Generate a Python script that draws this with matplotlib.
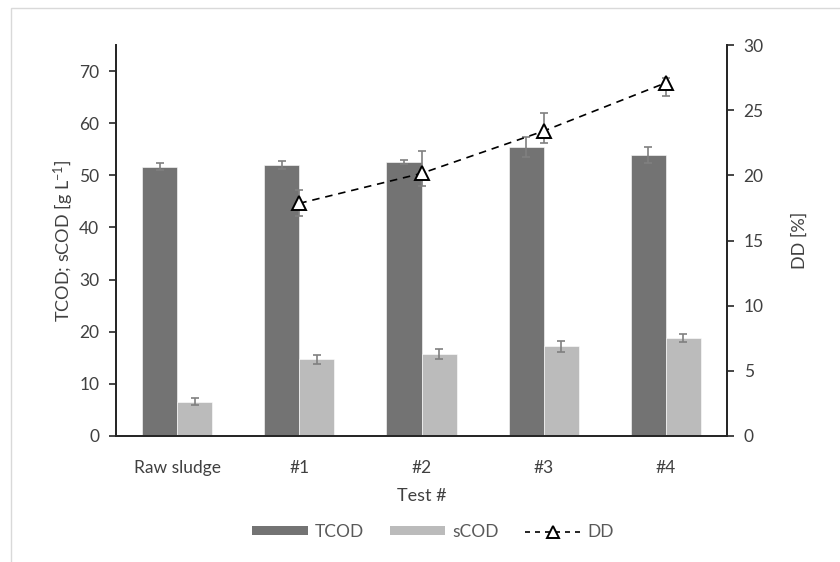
"""
TCOD / sCOD bars with degree of disintegration (DD) on a second axis.
Values read off the reference chart.
"""
import numpy as np
import matplotlib
matplotlib.use("Agg")
import matplotlib.pyplot as plt
from matplotlib.lines import Line2D
from matplotlib.patches import Patch, Rectangle

plt.rcParams["font.family"] = ["Lato", "DejaVu Sans"]
plt.rcParams["mathtext.fontset"] = "custom"
plt.rcParams["mathtext.rm"] = "Lato"
plt.rcParams["mathtext.it"] = "Lato:italic"

# ----- data -----
tests = ["Raw sludge", "#1", "#2", "#3", "#4"]
tcod = [51.65, 52.0, 52.6, 55.4, 53.9]
tcod_err = [0.65, 0.8, 0.4, 1.9, 1.5]
scod = [6.6, 14.7, 15.7, 17.2, 18.8]
scod_err = [0.65, 0.85, 0.95, 1.0, 0.8]
dd_tests = ["#1", "#2", "#3", "#4"]
dd = [17.85, 20.15, 23.4, 27.1]
dd_err_low = [1.0, 0.95, 0.95, 1.0]
dd_err_high = [1.0, 1.7, 1.4, 0.4]

c_tcod = "#737373"
c_scod = "#bbbbbb"
c_err = "#808080"
c_text = "#404040"
c_axis = "#262626"

x = np.arange(len(tests))
w = 0.287
fs = 12.5

fig = plt.figure(figsize=(8.4, 5.62), dpi=100)
ax = fig.add_axes([116 / 840, 1 - 436 / 562, (727 - 116) / 840, (436 - 45) / 562])

# faint chart-area border (Excel style)
fig.patches.append(Rectangle((11 / 840, -0.05), 1.2, 1 - 8 / 562 + 0.05,
                             transform=fig.transFigure, fill=False,
                             edgecolor="#d9d9d9", lw=1.0))

ekw = dict(ecolor=c_err, elinewidth=1.2, capsize=3.2, capthick=1.2)
ax.bar(x - w / 2, tcod, w, color=c_tcod, edgecolor="white", linewidth=0.4,
       yerr=tcod_err, error_kw=ekw, zorder=2)
ax.bar(x + w / 2, scod, w, color=c_scod, edgecolor="white", linewidth=0.4,
       yerr=scod_err, error_kw=ekw, zorder=2)

ax.set_xlim(-0.5, len(tests) - 0.5)
ax.set_ylim(0, 75)
ax.set_yticks(np.arange(0, 71, 10))
ax.set_xticks(x)
ax.set_xticklabels(tests)
ax.tick_params(axis="x", length=0, pad=17, labelsize=fs, labelcolor=c_text)
ax.tick_params(axis="y", direction="out", length=5, width=1.2, color=c_axis,
               pad=7, labelsize=fs, labelcolor=c_text)
ax.set_xlabel("Test #", fontsize=fs + 0.5, color=c_text, labelpad=9)
ax.set_ylabel(r"TCOD; sCOD [g L$^{\mathregular{-1}}$]", fontsize=fs + 0.5,
              color=c_text, labelpad=2)

ax2 = ax.twinx()
dd_x = [tests.index(t) for t in dd_tests]
ax2.errorbar(dd_x, dd, yerr=[dd_err_low, dd_err_high], fmt="none", zorder=3, **ekw)
ax2.plot(dd_x, dd, color="black", lw=1.2, dashes=(4.5, 3.5), marker="^",
         markersize=10.5, markerfacecolor="white", markeredgecolor="black",
         markeredgewidth=1.4, zorder=4)
ax2.set_ylim(0, 30)
ax2.set_yticks(np.arange(0, 31, 5))
ax2.tick_params(axis="y", direction="out", length=5, width=1.2, color=c_axis,
                pad=7, labelsize=fs, labelcolor=c_text)
ax2.set_ylabel("DD [%]", fontsize=fs + 0.5, color=c_text, labelpad=20)

for a in (ax, ax2):
    a.spines["top"].set_visible(False)
    for s in ("left", "right", "bottom"):
        a.spines[s].set_color(c_axis)
        a.spines[s].set_linewidth(1.3)

handles = [
    Patch(facecolor=c_tcod, edgecolor="none", label="TCOD"),
    Patch(facecolor=c_scod, edgecolor="none", label="sCOD"),
    Line2D([], [], color="black", lw=1.2, dashes=(3, 3), marker="^",
           markersize=9, markerfacecolor="white", markeredgecolor="black",
           markeredgewidth=1.4, label="DD"),
]
leg = fig.legend(handles=handles, loc="center", bbox_to_anchor=(433 / 840, 1 - 532 / 562),
                 ncol=3, frameon=False, fontsize=fs, handlelength=3.2,
                 handleheight=0.45, handletextpad=0.4, columnspacing=1.5,
                 numpoints=1)
for t in leg.get_texts():
    t.set_color("#595959")

fig.savefig("out.png", dpi=100)
